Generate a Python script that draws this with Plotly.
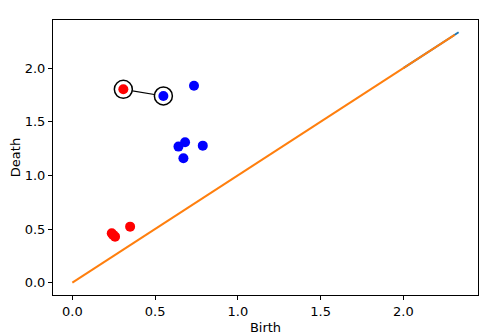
import plotly.graph_objects as go

# persistence points (birth, death)
red_birth = [0.308, 0.238, 0.246, 0.258, 0.349]
red_death = [1.802, 0.460, 0.445, 0.429, 0.522]

blue_birth = [0.550, 0.735, 0.641, 0.681, 0.788, 0.671]
blue_death = [1.740, 1.836, 1.268, 1.308, 1.277, 1.159]

# matched pair highlighted with circles
match_birth = [0.308, 0.550]
match_death = [1.802, 1.740]

# diagonal (blue one only peeks out past the orange at the top)
diag_blue = [2.0, 2.334]
diag_orange = [0.0, 2.31]

fig = go.Figure()

fig.add_trace(go.Scatter(x=diag_blue, y=diag_blue, mode='lines',
                         line=dict(color='#1f77b4', width=2)))
fig.add_trace(go.Scatter(x=diag_orange, y=diag_orange, mode='lines',
                         line=dict(color='#ff7f0e', width=2)))

fig.add_trace(go.Scatter(x=match_birth, y=match_death, mode='lines',
                         line=dict(color='black', width=1.2)))
fig.add_trace(go.Scatter(x=match_birth, y=match_death, mode='markers',
                         marker=dict(size=18, color='white',
                                     line=dict(color='black', width=1.5))))

fig.add_trace(go.Scatter(x=red_birth, y=red_death, mode='markers',
                         marker=dict(size=10, color='#ff0000')))
fig.add_trace(go.Scatter(x=blue_birth, y=blue_death, mode='markers',
                         marker=dict(size=10, color='#0000ff')))

axis = dict(showline=True, linecolor='black', linewidth=1, mirror=True,
            ticks='outside', ticklen=4, tickcolor='black',
            showgrid=False, zeroline=False, automargin=False,
            tickfont=dict(size=13, color='black'),
            tickvals=[0, 0.5, 1.0, 1.5, 2.0],
            ticktext=['0.0', '0.5', '1.0', '1.5', '2.0'])

# page body has an 8px margin, so the figure is shrunk to fit the window
fig.update_layout(
    width=490, height=327,
    margin=dict(l=45, r=20, t=12, b=40),
    paper_bgcolor='white', plot_bgcolor='white',
    showlegend=False,
    font=dict(family='DejaVu Sans', size=13, color='black'),
    xaxis=dict(axis, range=[-0.117, 2.451],
               title=dict(text='Birth', standoff=6, font=dict(size=13))),
    yaxis=dict(axis, range=[-0.115, 2.448],
               title=dict(text='Death', standoff=8, font=dict(size=13))),
)

fig.write_html("out.html")
